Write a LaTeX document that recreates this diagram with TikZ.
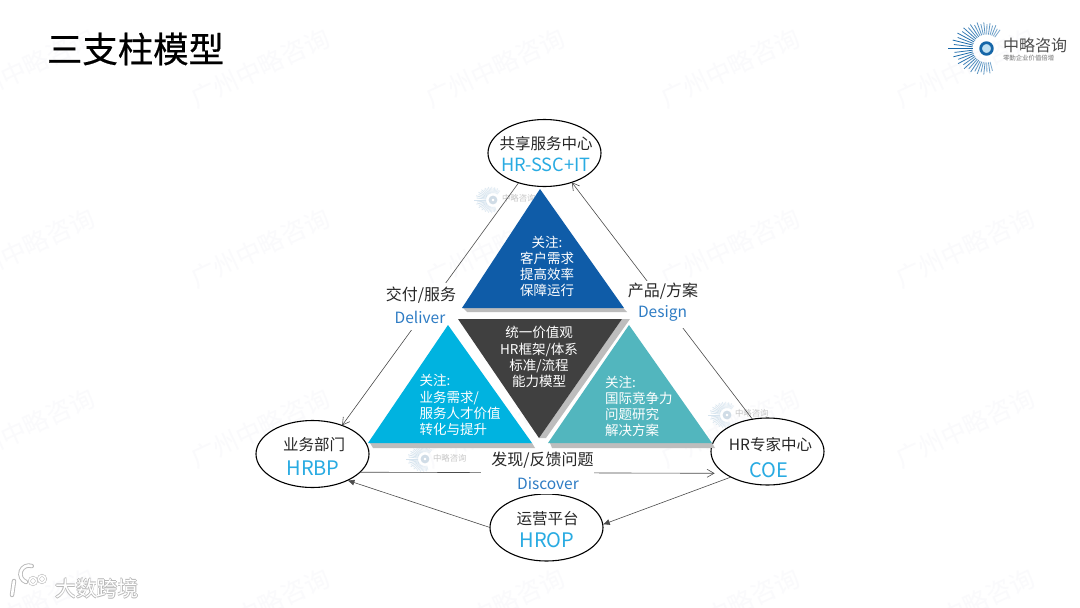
\documentclass[tikz,border=0pt]{standalone}
\usepackage{fontspec}
\setmainfont{Noto Sans CJK SC}
\newfontfamily\cjkm[FakeBold=0.5]{Noto Sans CJK SC}
\usetikzlibrary{arrows.meta,shapes.geometric}
\definecolor{wm}{HTML}{FAFAFC}
\definecolor{hrcyan}{HTML}{29ABE2}
\definecolor{enblue}{HTML}{2E7CC4}
\definecolor{tblue}{HTML}{0F5CA8}
\definecolor{tcyan}{HTML}{00B3E0}
\definecolor{tteal}{HTML}{52B6BE}
\definecolor{tdark}{HTML}{404040}
\definecolor{tshadow}{HTML}{BDBDBD}
\definecolor{logoblue}{HTML}{1566A8}
\definecolor{logoinner}{HTML}{BFE0F2}
\definecolor{wmray}{HTML}{D5E3EE}
\definecolor{wmring}{HTML}{D0DCE6}
\definecolor{white2}{HTML}{FFFFFF}
\tikzset{
  every node/.style={inner sep=0pt,outer sep=0pt},
  pillar/.style={ellipse,draw=black,line width=1.1pt,fill=white,minimum width=113pt,minimum height=67pt},
  zh/.style={text=black!85,font=\fontsize{15.5}{15.5}\selectfont},
  lab/.style={text=black!85,font=\fontsize{16}{16}\selectfont},
  en/.style={text=hrcyan,font=\fontsize{20}{20}\selectfont},
  tag/.style={text=enblue,font=\fontsize{15.5}{15.5}\selectfont},
  knock/.style={fill=white,minimum width=#1},
  conn/.style={draw=black!70,line width=.6pt},
  openarr/.style={conn,-{Straight Barb[length=7pt,width=8pt,line width=.6pt]}},
  fillarr/.style={conn,-{Latex[length=7pt,width=6pt]}},
  tritext/.style={text=white,align=left,font=\fontsize{13.5}{16.2}\selectfont},
  wmark/.style={text=wm,rotate=25,font=\fontsize{25}{25}\selectfont},
  brandtxt/.style={anchor=west,font=\fontsize{21}{21}\selectfont},
  wmlogotxt/.style={text=black!22,anchor=west,font=\fontsize{8.4}{8.4}\selectfont},
}
\newcommand{\zllogo}[6]{% x y scale raycolor ringcolor innercolor
  \begin{scope}[shift={(#1,#2)},scale=#3]
    \foreach \a/\l in {75/14,82/17,89/15,96/19,103/16,110/20,117/18,124/22,131/20,138/25,145/22,152/28,159/25,166/31,173/28,180/38,187/29,194/32,201/26,208/29,215/24,222/26,229/21,236/23,243/19,250/21,257/17,264/19,271/16,278/18,285/15,292/17,299/13,306/14}{
      \pgfmathtruncatemacro\mixv{min(100,25+\l*2.4)}
      \draw[#4!\mixv!white,line width=.8pt] (\a:14) -- (\a:14+\l*.65);
    }
    \fill[#6] (0,0) circle (4.5);
    \draw[line width=2.8pt,#5] (0,0) circle (5.8);
  \end{scope}
}
\begin{document}
\begin{tikzpicture}[x=1pt,y=-1pt]
\useasboundingbox (0,0) rectangle (1080,608);
\fill[white] (0,0) rectangle (1080,608);
% watermarks
\foreach \y in {68,248,428,608}
  \foreach \x in {25,260,495,730,965}
    \node[wmark] (wm\x\y) at (\x,\y) {广州中略咨询};
\zllogo{493}{200}{.5}{wmray}{wmring}{white}
\zllogo{425}{459}{.5}{wmray}{wmring}{white}
\zllogo{727}{415}{.5}{wmray}{wmring}{white}
\node[wmlogotxt] (wl1) at (502,198) {中略咨询};
\node[wmlogotxt] (wl2) at (433,458) {中略咨询};
\node[wmlogotxt] (wl3) at (735,413) {中略咨询};
% title
\node[anchor=west,text=black,font=\cjkm\fontsize{35.4}{35.4}\selectfont] (title) at (47,49) {三支柱模型};
% logo
\zllogo{986.5}{48.5}{1}{logoblue}{logoblue}{logoinner}
\node[anchor=west,text=black!70,font=\fontsize{16}{16}\selectfont] (lg1) at (1003,45) {中略咨询};
\node[anchor=west,text=black!55,font=\fontsize{6.4}{6.4}\selectfont] (lg2) at (1003,58) {零勤企业价值倍增};
% pillars
\node[pillar] (ssc) at (544.5,153) {};
\node[pillar] (hrbp) at (312.5,454) {};
\node[pillar] (coe) at (767.5,451.5) {};
\node[pillar] (hrop) at (546.5,527.5) {};
% connectors
\draw[openarr] (ssc.229) -- (hrbp.44);
\draw[openarr] (coe.115) -- (ssc.-47);
\draw[openarr,shorten >=10pt] (hrbp.-21) -- (coe.-153);
\draw[fillarr] (hrop.180) -- (hrbp.-37);
\draw[fillarr] (coe.-145) -- (hrop.3);
% labels over connectors
\node[knock=72pt,minimum height=47pt] (l1box) at (421,306) {};
\node[lab] (l1a) at (421,295.5) {交付/服务};
\node[tag] (l1b) at (420,317.5) {Deliver};
\node[knock=72pt,minimum height=47pt] (l2box) at (663,304) {};
\node[lab] (l2a) at (663,291.5) {产品/方案};
\node[tag] (l2b) at (662.5,313.5) {Design};
\node[knock=113pt,minimum height=44pt] (l3box) at (537.5,472) {};
\node[lab] (l3a) at (542.5,460) {发现/反馈问题};
\node[tag] (l3b) at (548,484) {Discover};
% triangles
\fill[tshadow] (463,308) -- (623,308) -- (627,312) -- (467,312) -- cycle;
\fill[tblue] (540,189) -- (462,308) -- (624,308) -- cycle;
\fill[tshadow] (630,319) -- (546,438) -- (539,438) -- (622,319) -- cycle;
\fill[tdark] (458,319) -- (622,319) -- (539,438) -- cycle;
\fill[tshadow] (370,443) -- (532,443) -- (535,448) -- (373,448) -- cycle;
\fill[tcyan] (448,325) -- (368,443) -- (532,443) -- cycle;
\fill[tshadow] (550,443) -- (712,443) -- (715,448) -- (552,448) -- cycle;
\fill[tteal] (629,325) -- (548,443) -- (712,443) -- cycle;
\node[tritext,align=center] (t1) at (547,266.5) {关注:\\客户需求\\提高效率\\保障运行};
\node[tritext,align=center] (t2) at (539,357) {统一价值观\\HR框架/体系\\标准/流程\\能力模型};
\node[tritext,anchor=north west] (t3) at (419.5,374.5) {关注:\\业务需求/\\服务人才价值\\转化与提升};
\node[tritext,anchor=north west] (t4) at (605,376) {关注:\\国际竞争力\\问题研究\\解决方案};
% pillar text
\node[zh] (s1) at (546,144) {共享服务中心};
\node[en,font=\fontsize{18.2}{18.2}\selectfont] (s2) at (546,164.5) {HR-SSC+IT};
\node[zh] (b1) at (314,445) {业务部门};
\node[en] (b2) at (313,468) {HRBP};
\node[zh] (c1) at (770.5,445) {HR专家中心};
\node[en] (c2) at (769,470) {COE};
\node[zh] (o1) at (547.5,519) {运营平台};
\node[en] (o2) at (547,540) {HROP};
% corner brand
\foreach \dx/\dy in {-1/0,1/0,0/-1,0/1}
  \node[brandtxt,text=black!28] (brs\dx\dy) at (55+\dx,588+\dy) {大数跨境};
\node[brandtxt,text=white] (br) at (55,588) {大数跨境};
\foreach \c/\w in {black!28/4.4pt,white/2.6pt}{
  \draw[\c,line width=\w,line cap=round] (14,581) -- (12,595);
  \draw[\c,line width=\w,line cap=round] (26,582) arc[start angle=110,end angle=290,radius=8.5];
  \draw[\c,line width=\w*.6] (33,581) circle (3.6);
  \draw[\c,line width=\w*.6] (42,579) circle (3.6);
}
\end{tikzpicture}
\end{document}
